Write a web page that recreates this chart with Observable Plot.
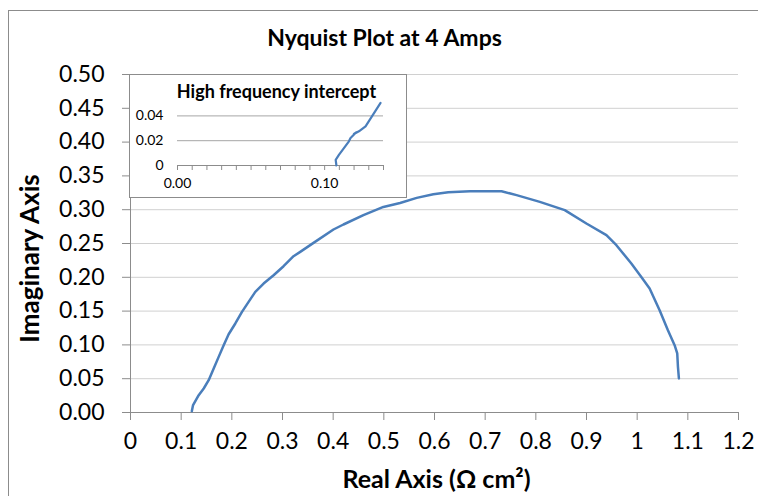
<!DOCTYPE html>
<html><head><meta charset="utf-8">
<script src="https://cdn.jsdelivr.net/npm/d3@7"></script>
<script src="https://cdn.jsdelivr.net/npm/@observablehq/plot@0.6"></script>
<style>
body{margin:0;background:#fff;}
#wrap{position:relative;width:758px;height:496px;overflow:hidden;font-family:Lato,"Open Sans",sans-serif;background:#fff;}
#frame{position:absolute;left:8px;top:10px;width:800px;height:600px;border-left:1.5px solid #8c8c8c;border-top:1.5px solid #8c8c8c;}
#main{position:absolute;left:0;top:0;}
#inset{position:absolute;left:129px;top:74px;width:276px;height:122px;background:#fff;border:1.5px solid #8c8c8c;}
#inset svg,#main svg{display:block;}
</style></head><body>
<div id="wrap"><div id="frame"></div><div id="main"></div><div id="inset"></div></div>
<script>
// Main Nyquist curve (Real vs Imaginary, Ω cm²)
const realZ = [0.121,0.1235,0.1346,0.1445,0.1543,0.1642,0.174,0.1839,0.1937,0.2069,0.22,0.2331,0.2463,0.2627,0.2824,0.3021,0.3218,0.335,0.3612,0.4006,0.4203,0.4597,0.4991,0.532,0.5649,0.5977,0.6272,0.67,0.7323,0.762,0.8079,0.8571,0.8998,0.9393,0.959,0.9885,1.0082,1.0246,1.0443,1.0607,1.0739,1.0791,1.0805,1.0824];
const imagZ = [0.002,0.011,0.0256,0.0355,0.0478,0.065,0.0823,0.0996,0.1158,0.1317,0.1488,0.1636,0.1784,0.1908,0.2031,0.2164,0.2312,0.2376,0.2509,0.2707,0.2781,0.2919,0.3041,0.31,0.3175,0.3229,0.3259,0.3274,0.3274,0.3215,0.3116,0.2993,0.2796,0.2623,0.2475,0.2204,0.2006,0.1834,0.1513,0.1217,0.0996,0.0873,0.0675,0.0503];
// Inset: high frequency intercept
const insetReal = [0.108,0.1075,0.1097,0.1165,0.1176,0.1215,0.1199,0.1233,0.1278,0.138];
const insetImag = [0.000,0.0046,0.0086,0.0195,0.0222,0.0268,0.0254,0.0276,0.0316,0.0505];

const xTicks = [0,0.1,0.2,0.3,0.4,0.5,0.6,0.7,0.8,0.9,1,1.1,1.2];
const xTickLabels = ["0","0.1","0.2","0.3","0.4","0.5","0.6","0.7","0.8","0.9","1","1.1","1.2"];
const yTicks = [0,0.05,0.1,0.15,0.2,0.25,0.3,0.35,0.4,0.45,0.5];
const insetXTicks = [0,0.01,0.02,0.03,0.04,0.05,0.06,0.07,0.08,0.09,0.1,0.11,0.12,0.13,0.14];
const insetXLabels = [0,0.1];
const insetYTicks = [0,0.02,0.04];

const titleText = "Nyquist Plot at 4 Amps";
const xLabel = "Real Axis (Ω cm²)";
const yLabel = "Imaginary Axis";
const insetTitle = "High frequency intercept";

const mainData = realZ.map((r,i)=>({re:r, im:imagZ[i]}));
const insetData = insetReal.map((r,i)=>({re:r, im:insetImag[i]}));

const font = "Lato, 'Open Sans', sans-serif";
const lineColor = "#4a7ebb";

const main = Plot.plot({
  width:758, height:496,
  marginLeft:130, marginRight:20, marginTop:74, marginBottom:84,
  style:{fontFamily:font, fontSize:"23px", color:"#000", background:"transparent"},
  x:{domain:[0,1.2]},
  y:{domain:[0,0.5]},
  marks:[
    Plot.gridY(yTicks,{stroke:"#d0d0d0", strokeOpacity:1}),
    Plot.ruleX([0],{stroke:"#8c8c8c"}),
    Plot.ruleY([0],{stroke:"#8c8c8c"}),
    Plot.axisX(xTicks,{tickSize:8, tickPadding:12, stroke:"#8c8c8c", fill:"#000", fontSize:23,
      tickFormat:(d,i)=>xTickLabels[xTicks.findIndex(v=>Math.abs(v-d)<1e-9)], label:null}),
    Plot.axisY(yTicks,{tickSize:8, tickPadding:18, stroke:"#8c8c8c", fill:"#000", fontSize:23,
      tickFormat:d3.format(".2f"), label:null}),
    Plot.line(mainData,{x:"re", y:"im", stroke:lineColor, strokeWidth:2.5}),
    Plot.text([titleText],{frameAnchor:"top", dx:-50, dy:-36, lineAnchor:"middle", fontWeight:"bold", fontSize:23, fill:"#000"}),
    Plot.text([xLabel],{frameAnchor:"bottom", dx:2, dy:67, lineAnchor:"middle", fontWeight:"bold", fontSize:25, fill:"#000"}),
    Plot.text([yLabel],{frameAnchor:"left", dx:-100, dy:15, rotate:-90, textAnchor:"middle", lineAnchor:"middle", fontWeight:"bold", fontSize:26, fill:"#000"})
  ]
});
document.getElementById("main").append(main);

const inset = Plot.plot({
  width:276, height:122,
  marginLeft:47, marginRight:23, marginTop:28, marginBottom:32,
  style:{fontFamily:font, fontSize:"14px", color:"#000", background:"transparent"},
  x:{domain:[0,0.14]},
  y:{domain:[0,0.05]},
  marks:[
    Plot.gridY(insetYTicks.filter(d=>d>0),{stroke:"#a6a6a6", strokeOpacity:1}),
    Plot.ruleY([0],{stroke:"#8c8c8c"}),
    Plot.axisX(insetXTicks,{tickSize:5, tickPadding:8, stroke:"#8c8c8c", fill:"#000", fontSize:14, label:null,
      tickFormat:d=>insetXLabels.some(v=>Math.abs(v-d)<1e-9)?d.toFixed(2):""}),
    Plot.axisY(insetYTicks,{tickSize:0, tickPadding:14, fill:"#000", fontSize:14, label:null,
      tickFormat:d=>d===0?"0":d.toFixed(2)}),
    Plot.line(insetData,{x:"re", y:"im", stroke:lineColor, strokeWidth:2.2}),
    Plot.text([insetTitle],{frameAnchor:"top", dx:-4, dy:-11, lineAnchor:"middle", fontWeight:"bold", fontSize:18, fill:"#000"})
  ]
});
document.getElementById("inset").append(inset);
</script>
</body></html>
